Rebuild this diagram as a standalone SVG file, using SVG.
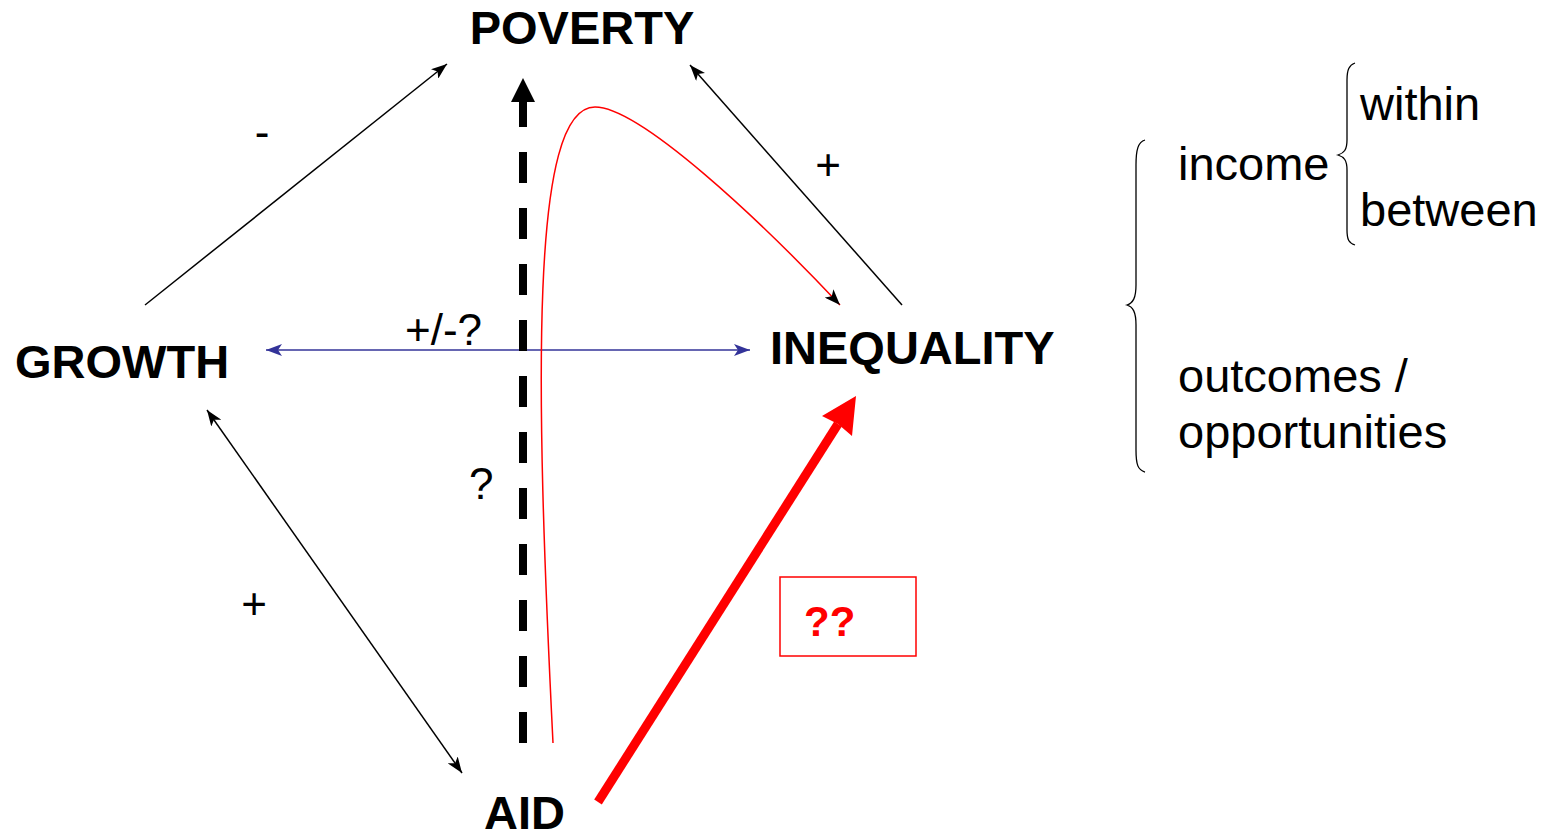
<svg xmlns="http://www.w3.org/2000/svg" width="1553" height="834" viewBox="0 0 1553 834">
<style>
text{font-family:"Liberation Sans",Arial,sans-serif;fill:#000}
.node{font-weight:bold;font-size:47px}
.lbl{font-size:44px}
.side{font-size:47px}
.thin{fill:none;stroke:#000;stroke-width:1.5}
.brace{fill:none;stroke:#000;stroke-width:1.3}
</style>
<defs>
<marker id="ah" markerUnits="userSpaceOnUse" viewBox="0 0 16 12" refX="16" refY="6" markerWidth="16" markerHeight="12" orient="auto-start-reverse"><path d="M0,0 L16,6 L0,12 L4,6 z" fill="#000"/></marker>
<marker id="ahb" markerUnits="userSpaceOnUse" viewBox="0 0 16 12" refX="16" refY="6" markerWidth="16" markerHeight="12" orient="auto-start-reverse"><path d="M0,0 L16,6 L0,12 L4,6 z" fill="#333399"/></marker>
</defs>
<rect width="1553" height="834" fill="#fff"/>
<g id="connectors">
<line class="thin" x1="145" y1="305" x2="447" y2="64" marker-end="url(#ah)"/>
<line class="thin" x1="902" y1="305" x2="690" y2="65" marker-end="url(#ah)"/>
<line class="thin" x1="207" y1="410" x2="462" y2="773" marker-start="url(#ah)" marker-end="url(#ah)"/>
<line x1="266" y1="350" x2="750" y2="350" stroke="#333399" stroke-width="1.5" marker-start="url(#ahb)" marker-end="url(#ahb)"/>
<line x1="523" y1="743" x2="523" y2="96" stroke="#000" stroke-width="8" stroke-dasharray="31 25"/>
<polygon points="523,78 511,102 535,102" fill="#000"/>
<path d="M553,743 C535,380 530,107 595,107 C640,107 760,220 840,305" fill="none" stroke="#f00" stroke-width="1.5" marker-end="url(#ah)"/>
<line x1="598" y1="802" x2="838" y2="424" stroke="#f00" stroke-width="9"/>
<polygon points="856,396 852,436 838,424 822,416" fill="#f00"/>
</g>
<g id="poverty"><text class="node" x="582" y="44" text-anchor="middle">POVERTY</text></g>
<g id="growth"><text class="node" x="15" y="378">GROWTH</text></g>
<g id="inequality"><text class="node" x="770" y="364">INEQUALITY</text></g>
<g id="aid"><text class="node" x="484" y="829">AID</text></g>
<g id="labels">
<text class="lbl" x="262" y="147" text-anchor="middle">-</text>
<text class="lbl" x="828" y="180" text-anchor="middle">+</text>
<text class="lbl" x="254" y="619" text-anchor="middle">+</text>
<text class="lbl" x="405" y="345">+/-?</text>
<text class="lbl" x="469" y="499">?</text>
</g>
<g id="qbox">
<rect x="780" y="577" width="136" height="79" fill="none" stroke="#f00" stroke-width="1.5"/>
<text x="804" y="636" font-size="42" font-weight="bold" style="fill:#f00">??</text>
</g>
<g id="dimensions">
<path class="brace" d="M1145,140 C1138,142 1136,150 1136,165 L1136,285 C1136,298 1133,303 1127,305 C1133,307 1136,312 1136,325 L1136,450 C1136,465 1138,470 1145,472"/>
<path class="brace" d="M1355,63 C1349,65 1347,70 1347,80 L1347,140 C1347,150 1344,153 1338,155 C1344,157 1347,160 1347,170 L1347,230 C1347,240 1349,243 1355,245"/>
<text class="side" x="1178" y="180">income</text>
<text class="side" x="1360" y="120">within</text>
<text class="side" x="1360" y="226">between</text>
<text class="side" x="1178" y="392">outcomes /</text>
<text class="side" x="1178" y="448">opportunities</text>
</g>
</svg>
